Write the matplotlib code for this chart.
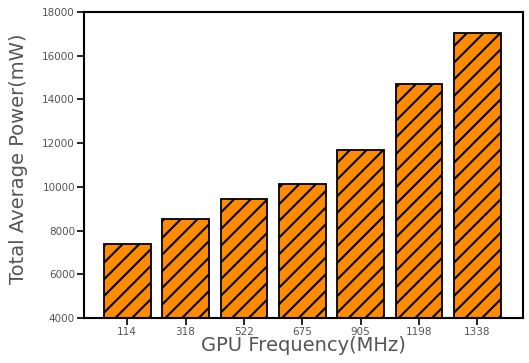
import numpy as np
import matplotlib
matplotlib.use("Agg")
import matplotlib.pyplot as plt

# GPU frequency (MHz) and measured total average power (mW)
freqs = ["114", "318", "522", "675", "905", "1198", "1338"]
power = [7380, 8530, 9440, 10130, 11690, 14710, 17040]
yticks = [4000, 6000, 8000, 10000, 12000, 14000, 16000, 18000]

plt.rcParams['hatch.linewidth'] = 1.5

fig = plt.figure(figsize=(5.29, 3.63), dpi=100)
ax = fig.add_axes([84 / 529, 45 / 363, 439 / 529, 306 / 363])

x = np.arange(len(freqs))
ax.bar(x, power, width=0.8, color="#ff8c00", edgecolor="black",
       linewidth=1.3, hatch="//")

ax.set_xlim(-0.74, 6.78)
ax.set_ylim(4000, 18000)
ax.set_xticks(x)
ax.set_xticklabels(freqs, fontsize=7.5, color="#555555")
ax.set_yticks(yticks)
ax.set_yticklabels([str(v) for v in yticks], fontsize=7.5, color="#555555")
ax.tick_params(length=5, width=1.2, direction="out", pad=1.5)

for s in ax.spines.values():
    s.set_linewidth(1.5)

ax.set_xlabel("GPU Frequency(MHz)", fontsize=14, color="#555555", labelpad=-1)
ax.set_ylabel("Total Average Power(mW)", fontsize=14, color="#555555")
ax.yaxis.set_label_coords(-0.127, 0.52)

fig.savefig("out.png", dpi=100)
